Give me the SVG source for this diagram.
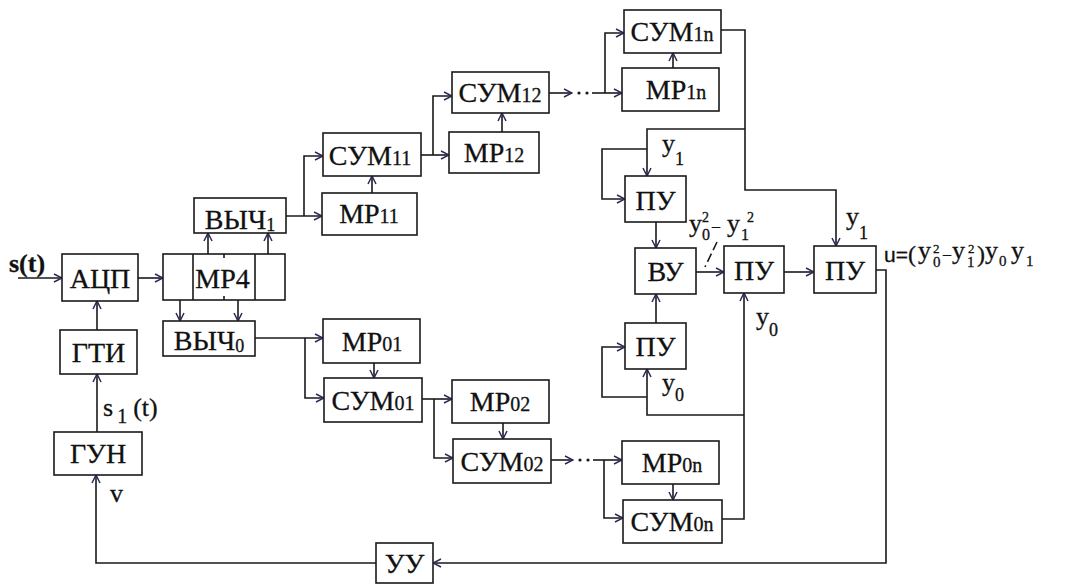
<svg xmlns="http://www.w3.org/2000/svg" width="1068" height="586" viewBox="0 0 1068 586">
<style>
.b{fill:#fff;stroke:#1a1a1a;stroke-width:1.6}
.t{font-family:'Liberation Serif','Times New Roman',serif;font-size:28px;fill:#111;stroke:#111;stroke-width:0.3;text-anchor:middle}
.l{font-family:'Liberation Serif','Times New Roman',serif;font-size:26px;fill:#111;stroke:#111;stroke-width:0.3}
.s{font-size:20px}
.ss{font-size:18px}
.c{fill:none;stroke:#1a1a1a;stroke-width:1.6}
.a{marker-end:url(#ar)}
.d{fill:#1a1a1a}
</style>
<defs>
<marker id="ar" markerWidth="10" markerHeight="10" refX="9" refY="5" orient="auto" markerUnits="userSpaceOnUse">
<path d="M1,1 L9,5 L1,9" fill="none" stroke="#2a2a5a" stroke-width="1.5"/>
</marker>
</defs>
<rect width="1068" height="586" fill="#fff"/>

<g id="connectors">
<path class="c a" d="M18,278 H62"/>
<path class="c a" d="M138,278 H163"/>
<path class="c a" d="M97,330 V301"/>
<path class="c a" d="M97,432 V374"/>
<path class="c a" d="M208,254 V233"/>
<path class="c a" d="M268,254 V233"/>
<path class="c a" d="M180,300 V321"/>
<path class="c a" d="M238,300 V321"/>
<path class="c a" d="M286,216 H322"/>
<path class="c a" d="M304,216 V156 H323"/>
<path class="c a" d="M372,193 V176"/>
<path class="c a" d="M421,155 H449"/>
<path class="c a" d="M433,155 V96 H452"/>
<path class="c a" d="M502,132 V113"/>
<path class="c a" d="M549,93 H572"/>
<circle class="d" cx="579" cy="93" r="1.6"/>
<circle class="d" cx="587" cy="93" r="1.6"/>
<path class="c a" d="M592,93 H622"/>
<path class="c a" d="M605,93 V33 H624"/>
<path class="c a" d="M673,68 V53"/>
<path class="c a" d="M721,30 H745 V190 H836 V246"/>
<path class="c a" d="M745,129 H647 V176"/>
<path class="c a" d="M647,149 H602 V199 H625"/>
<path class="c a" d="M656,222 V248"/>
<path class="c a" d="M696,272 H724"/>
<path class="c a" d="M784,272 H814"/>
<path class="c a" d="M876,270 H886 V563 H433"/>
<path class="c a" d="M376,563 H96 V475"/>
<path class="c a" d="M255,338 H323"/>
<path class="c a" d="M305,338 V398 H324"/>
<path class="c a" d="M374,363 V378"/>
<path class="c a" d="M422,399 H452"/>
<path class="c a" d="M434,399 V458 H453"/>
<path class="c a" d="M503,423 V439"/>
<path class="c a" d="M551,460 H573"/>
<circle class="d" cx="580" cy="460" r="1.6"/>
<circle class="d" cx="588" cy="460" r="1.6"/>
<path class="c a" d="M593,460 H622"/>
<path class="c a" d="M604,460 V518 H623"/>
<path class="c a" d="M673,484 V500"/>
<path class="c a" d="M722,519 H744 V293"/>
<path class="c a" d="M744,415 H647 V369"/>
<path class="c a" d="M647,397 H602 V347 H625"/>
<path class="c a" d="M656,323 V294"/>
<path class="c" d="M717,242 L705,267" stroke-dasharray="9,4"/>
</g>

<g id="adc"><rect class="b" x="62" y="254" width="76" height="47"/><text class="t" x="100" y="288">АЦП</text></g>
<g id="gti"><rect class="b" x="60" y="330" width="77" height="44"/><text class="t" x="98.5" y="362">ГТИ</text></g>
<g id="gun"><rect class="b" x="54" y="432" width="88" height="43"/><text class="t" x="98" y="463">ГУН</text></g>
<g id="mr4"><rect class="b" x="163" y="254" width="122" height="46"/>
<path class="c" d="M193,254 V300 M255,254 V300 M224,254 V258 M224,296 V300"/>
<text class="t" x="222.5" y="288">МР4</text></g>
<g id="vych1"><rect class="b" x="194" y="198" width="92" height="35"/><text class="t" x="240" y="229">ВЫЧ<tspan class="ss" dy="2">1</tspan></text></g>
<g id="vych0"><rect class="b" x="163" y="321" width="92" height="35"/><text class="t" x="209" y="350">ВЫЧ<tspan class="ss" dy="2">0</tspan></text></g>
<g id="mr11"><rect class="b" x="322" y="193" width="95" height="42"/><text class="t" x="369" y="223">МР<tspan class="s">11</tspan></text></g>
<g id="sum11"><rect class="b" x="323" y="133" width="98" height="43"/><text class="t" x="370" y="165">СУМ<tspan class="s">11</tspan></text></g>
<g id="mr12"><rect class="b" x="449" y="132" width="90" height="41"/><text class="t" x="494" y="162">МР<tspan class="s">12</tspan></text></g>
<g id="sum12"><rect class="b" x="452" y="72" width="97" height="41"/><text class="t" x="500" y="102">СУМ<tspan class="s">12</tspan></text></g>
<g id="mr1n"><rect class="b" x="622" y="68" width="97" height="43"/><text class="t" x="676" y="99">МР<tspan class="s">1n</tspan></text></g>
<g id="sum1n"><rect class="b" x="624" y="10" width="97" height="43"/><text class="t" x="672" y="41">СУМ<tspan class="s">1n</tspan></text></g>
<g id="mr01"><rect class="b" x="323" y="319" width="97" height="44"/><text class="t" x="372" y="351">МР<tspan class="s">01</tspan></text></g>
<g id="sum01"><rect class="b" x="324" y="378" width="98" height="44"/><text class="t" x="373" y="410">СУМ<tspan class="s">01</tspan></text></g>
<g id="mr02"><rect class="b" x="452" y="380" width="97" height="43"/><text class="t" x="500" y="411">МР<tspan class="s">02</tspan></text></g>
<g id="sum02"><rect class="b" x="453" y="439" width="98" height="44"/><text class="t" x="502" y="471">СУМ<tspan class="s">02</tspan></text></g>
<g id="mr0n"><rect class="b" x="622" y="441" width="97" height="43"/><text class="t" x="672" y="472">МР<tspan class="s">0n</tspan></text></g>
<g id="sum0n"><rect class="b" x="623" y="500" width="99" height="43"/><text class="t" x="672" y="531">СУМ<tspan class="s">0n</tspan></text></g>
<g id="pu1"><rect class="b" x="625" y="176" width="61" height="46"/><text class="t" x="655.5" y="210">ПУ</text></g>
<g id="vu"><rect class="b" x="635" y="248" width="61" height="46"/><text class="t" x="665.5" y="281">ВУ</text></g>
<g id="pu0"><rect class="b" x="625" y="323" width="61" height="46"/><text class="t" x="655.5" y="356">ПУ</text></g>
<g id="pu2"><rect class="b" x="724" y="246" width="60" height="47"/><text class="t" x="754" y="280">ПУ</text></g>
<g id="pu3"><rect class="b" x="814" y="246" width="62" height="47"/><text class="t" x="845" y="280">ПУ</text></g>
<g id="uu"><rect class="b" x="376" y="543" width="57" height="40"/><text class="t" x="404.5" y="573">УУ</text></g>

<g id="labels">
<text class="l" x="9" y="272" font-weight="bold" font-size="26">s(t)</text>
<text class="l" x="103" y="416">s<tspan font-size="20" dx="4" dy="7">1</tspan><tspan dx="6" dy="-7">(t)</tspan></text>
<text class="l" x="110" y="502" font-size="24">v</text>
<text class="l" x="662" y="152">y<tspan font-size="18" dy="13">1</tspan></text>
<text class="l" x="846" y="225">y<tspan font-size="18" dy="14">1</tspan></text>
<text class="l" x="662" y="391">y<tspan font-size="18" dy="10">0</tspan></text>
<text class="l" x="756" y="325">y<tspan font-size="18" dy="11">0</tspan></text>
<text class="l"><tspan x="689" y="232">y</tspan><tspan x="702" y="222" font-size="14">2</tspan><tspan x="702" y="240" font-size="16">0</tspan><tspan x="712" y="231" font-size="16">–</tspan><tspan x="727" y="232">y</tspan><tspan x="747" y="222" font-size="14">2</tspan><tspan x="741" y="240" font-size="16">1</tspan></text>
<text class="l"><tspan x="884" y="262" font-family="'Liberation Sans', Arial, sans-serif" font-size="21">u=</tspan><tspan x="908" y="262" font-size="24">(</tspan><tspan x="918" y="259">y</tspan><tspan x="933" y="253" font-size="13">2</tspan><tspan x="933" y="267" font-size="15">0</tspan><tspan x="943" y="259" font-size="16">–</tspan><tspan x="952" y="259">y</tspan><tspan x="968" y="253" font-size="13">2</tspan><tspan x="967" y="267" font-size="15">1</tspan><tspan x="977" y="262" font-size="24">)</tspan><tspan x="985" y="259">y</tspan><tspan x="999" y="266" font-size="15">0</tspan><tspan x="1011" y="259">y</tspan><tspan x="1026" y="266" font-size="15">1</tspan></text>
</g>
</svg>
